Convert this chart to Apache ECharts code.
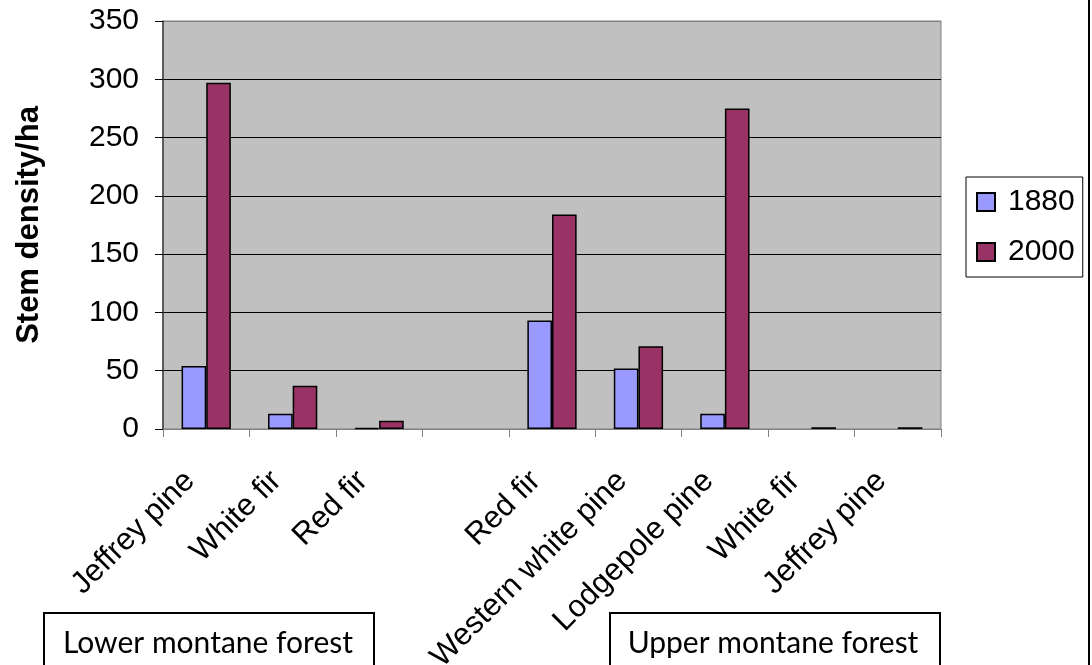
<!DOCTYPE html>
<html>
<head>
<meta charset="utf-8">
<title>Stem density by species, 1880 and 2000</title>
<script src="https://cdn.jsdelivr.net/npm/echarts@6/dist/echarts.min.js"></script>
<style>
  html, body { margin: 0; padding: 0; background: #ffffff; }
  #chart { width: 1092px; height: 665px; }
</style>
</head>
<body>
<div id="chart"></div>
<script>
// Species along the x axis; the blank slot separates lower and upper montane stands
const species = ['Jeffrey pine', 'White fir', 'Red fir', '', 'Red fir', 'Western white pine', 'Lodgepole pine', 'White fir', 'Jeffrey pine'];

// Stem density (stems/ha) per survey year; '-' marks no stems recorded
const density1880 = [54, 13, 1, '-', 93, 52, 13, '-', '-'];
const density2000 = [297, 37, 7, '-', 184, 71, 275, 1.5, 1.5];

// Value axis ticks
const yTicks = [0, 50, 100, 150, 200, 250, 300, 350];

// Forest zone captions under the axis
const zoneLabels = ['Lower montane forest', 'Upper montane forest'];

const chart = echarts.init(document.getElementById('chart'), null, { renderer: 'canvas' });

const FONT = '"Liberation Sans", Arial, sans-serif';

const option = {
  animation: false,
  backgroundColor: '#ffffff',
  grid: {
    left: 163,
    top: 21,
    right: 151,
    bottom: 236,
    outerBoundsMode: 'none',
    show: true,
    backgroundColor: '#C0C0C0',
    borderColor: '#808080',
    borderWidth: 1
  },
  legend: {
    orient: 'vertical',
    left: 966,
    top: 177,
    padding: [10, 8, 10, 10],
    itemGap: 20,
    itemWidth: 18,
    itemHeight: 18,
    borderColor: '#000000',
    borderWidth: 1,
    backgroundColor: '#ffffff',
    borderRadius: 0,
    icon: 'rect',
    textStyle: {
      fontFamily: FONT,
      fontSize: 30,
      color: '#000000',
      padding: [0, 0, 0, 8]
    },
    data: ['1880', '2000']
  },
  xAxis: {
    type: 'category',
    data: species,
    boundaryGap: true,
    axisLine: { show: true, lineStyle: { color: '#808080', width: 1 } },
    axisTick: { show: true, length: 8, lineStyle: { color: '#808080', width: 1 } },
    axisLabel: {
      interval: 0,
      rotate: 45,
      margin: 31,
      padding: [0, 23, 0, 0],
      fontFamily: FONT,
      fontSize: 31,
      color: '#000000'
    },
    splitLine: { show: false }
  },
  yAxis: {
    type: 'value',
    min: yTicks[0],
    max: yTicks[yTicks.length - 1],
    interval: yTicks[1] - yTicks[0],
    name: 'Stem density/ha',
    nameLocation: 'middle',
    nameRotate: 90,
    nameGap: 118,
    nameTextStyle: {
      fontFamily: FONT,
      fontSize: 31,
      fontWeight: 'bold',
      color: '#000000'
    },
    axisLine: { show: true, lineStyle: { color: '#404040', width: 1.5 } },
    axisTick: { show: true, inside: false, length: 8, lineStyle: { color: '#000000', width: 1 } },
    axisLabel: {
      margin: 24,
      fontFamily: FONT,
      fontSize: 30,
      color: '#000000'
    },
    splitLine: {
      show: true,
      lineStyle: {
        color: ['#808080', '#000000', '#000000', '#000000', '#000000', '#000000', '#000000', '#808080'],
        width: 1
      }
    }
  },
  series: [
    {
      name: '1880',
      type: 'bar',
      data: density1880,
      barGap: '0%',
      barCategoryGap: '43%',
      itemStyle: { color: '#9999FF', borderColor: '#000000', borderWidth: 1.5 }
    },
    {
      name: '2000',
      type: 'bar',
      data: density2000,
      barGap: '0%',
      barCategoryGap: '43%',
      itemStyle: { color: '#993366', borderColor: '#000000', borderWidth: 1.5 }
    }
  ],
  graphic: [
    // outer frame edge on the right
    {
      type: 'line',
      shape: { x1: 1089, y1: 0, x2: 1089, y2: 665 },
      style: { stroke: '#000000', lineWidth: 2 }
    },
    // lower montane caption box
    {
      type: 'rect',
      shape: { x: 44, y: 613, width: 330, height: 70 },
      style: { fill: '#ffffff', stroke: '#000000', lineWidth: 2 }
    },
    {
      type: 'text',
      x: 208,
      y: 643,
      style: {
        text: zoneLabels[0],
        font: '30px Lato, "Open Sans", sans-serif',
        fill: '#000000',
        align: 'center',
        verticalAlign: 'middle'
      }
    },
    // upper montane caption box
    {
      type: 'rect',
      shape: { x: 610, y: 613, width: 330, height: 70 },
      style: { fill: '#ffffff', stroke: '#000000', lineWidth: 2 }
    },
    {
      type: 'text',
      x: 773,
      y: 643,
      style: {
        text: zoneLabels[1],
        font: '30px Lato, "Open Sans", sans-serif',
        fill: '#000000',
        align: 'center',
        verticalAlign: 'middle'
      }
    }
  ]
};

chart.setOption(option);
</script>
</body>
</html>
